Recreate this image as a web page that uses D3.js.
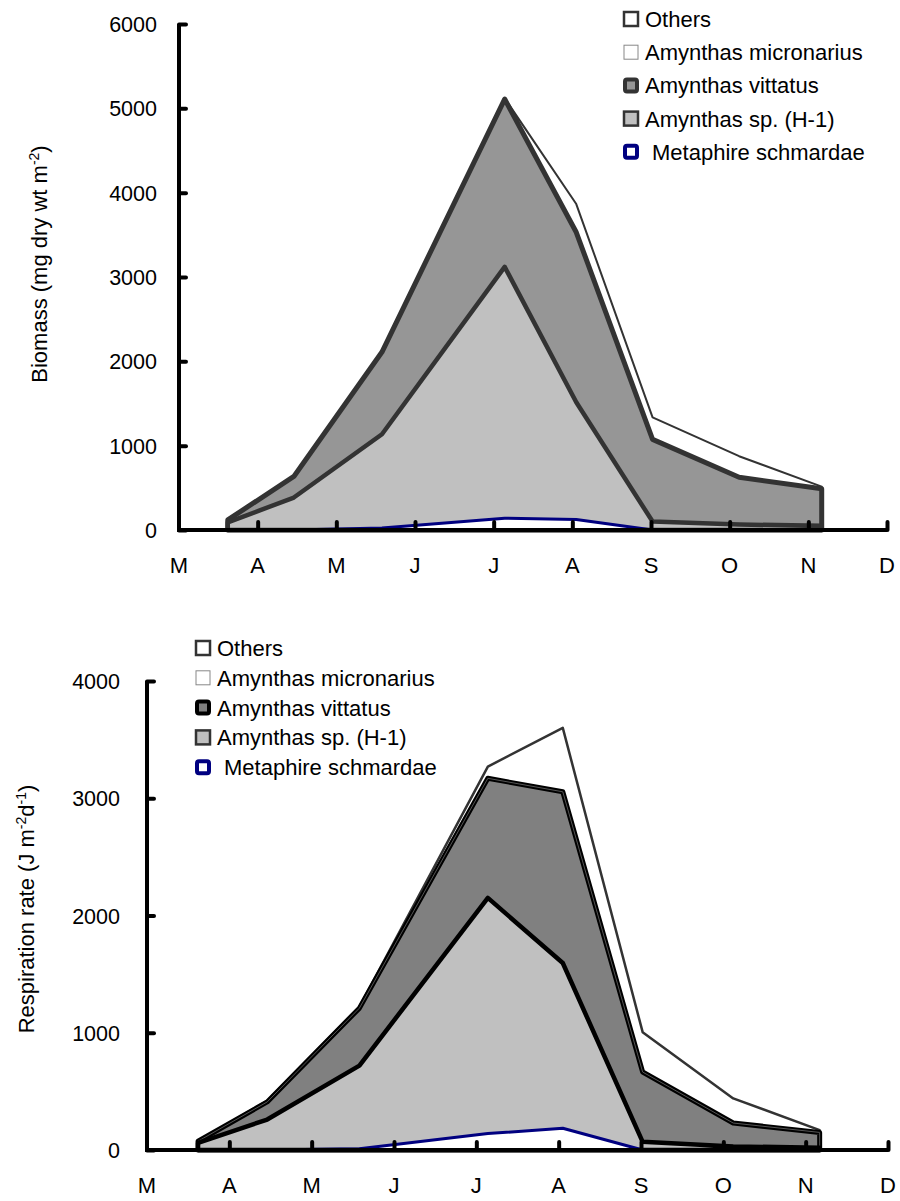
<!DOCTYPE html>
<html>
<head>
<meta charset="utf-8">
<script src="https://cdn.jsdelivr.net/npm/d3@7"></script>
<style>
  body { margin: 0; background: #fff; }
  svg { display: block; font-family: "Liberation Sans", Arial, sans-serif; }
</style>
</head>
<body>
<div id="chart"></div>
<script>
// month labels on the x axis (M = March ... D = December)
var monthLabels = ['M', 'A', 'M', 'J', 'J', 'A', 'S', 'O', 'N', 'D'];
// sampling dates, in months after 1 March
var sampleMonths = [0.62, 1.46, 2.58, 4.14, 5.05, 6.02, 7.12, 8.17];

var speciesNames = ['Metaphire schmardae', 'Amynthas sp. (H-1)', 'Amynthas vittatus', 'Amynthas micronarius', 'Others'];

// biomass, mg dry wt m-2 (per species, stacked bottom to top)
var bioMetaphire = [0, 0, 25, 140, 125, 0, 0, 0];
var bioH1 = [90, 385, 1110, 2980, 1390, 100, 65, 50];
var bioVittatus = [30, 250, 975, 1990, 2015, 975, 560, 440];
var bioMicronarius = [0, 0, 0, 0, 170, 125, 125, 10];
var bioOthers = [0, 5, 5, 10, 165, 135, 125, 15];
var bioTicks = [0, 1000, 2000, 3000, 4000, 5000, 6000];

// respiration rate, J m-2 d-1
var resMetaphire = [0, 0, 10, 140, 185, 0, 0, 0];
var resH1 = [60, 260, 710, 2010, 1410, 70, 30, 20];
var resVittatus = [15, 150, 490, 1020, 1460, 595, 200, 130];
var resMicronarius = [0, 5, 5, 60, 345, 185, 120, 10];
var resOthers = [0, 5, 5, 40, 200, 155, 90, 10];
var resTicks = [0, 1000, 2000, 3000, 4000];

var svg = d3.select('#chart').append('svg')
    .attr('width', 900)
    .attr('height', 1201);

function drawPanel(opt) {
    var x = d3.scaleLinear().domain([0, 9]).range(opt.xRange);
    var y = d3.scaleLinear().domain([0, opt.yMax]).range(opt.yRange);
    var g = svg.append('g');

    // cumulative totals, each area drawn from zero (spreadsheet style)
    var series = [opt.values[0]];
    for (var i = 1; i < opt.values.length; i++) {
        series.push(opt.values[i].map(function (v, j) { return v + series[i - 1][j]; }));
    }

    var area = d3.area()
        .x(function (d, i) { return x(sampleMonths[i]); })
        .y0(y(0))
        .y1(function (d) { return y(d); });

    // paint from the top-most total down to the bottom layer
    for (var k = series.length - 1; k >= 0; k--) {
        var st = opt.styles[k];
        g.append('path')
            .datum(series[k])
            .attr('d', area)
            .attr('fill', st.fill)
            .attr('stroke', st.stroke)
            .attr('stroke-width', st.width)
            .attr('stroke-linejoin', 'round');
        if (st.inner) {
            g.append('path')
                .datum(series[k])
                .attr('d', area)
                .attr('fill', 'none')
                .attr('stroke', st.inner)
                .attr('stroke-width', 1)
                .attr('stroke-linejoin', 'round');
        }
    }

    // axes
    var yAxis = d3.axisRight(y).tickValues(opt.ticks).tickSize(7).tickFormat('');
    var gy = g.append('g').attr('transform', 'translate(' + opt.xRange[0] + ',0)').call(yAxis);
    var xAxis = d3.axisTop(x).tickValues(d3.range(1, 10)).tickSize(8).tickFormat('');
    var gx = g.append('g').attr('transform', 'translate(0,' + opt.yRange[0] + ')').call(xAxis);
    g.selectAll('.domain').attr('stroke', '#000').attr('stroke-width', 4);
    g.selectAll('.tick line').attr('stroke', '#000').attr('stroke-width', 4).attr('stroke-linecap', 'round');
    gy.select('.domain').attr('d', 'M0,' + opt.yRange[1] + 'V' + opt.yRange[0]);
    gx.select('.domain').attr('d', 'M' + (opt.xRange[0] - 2) + ',0H' + opt.xRange[1]);

    g.selectAll('.ylab').data(opt.ticks).enter().append('text')
        .attr('x', opt.xRange[0] - opt.labelGap)
        .attr('y', function (d) { return y(d) + 8; })
        .attr('text-anchor', 'end')
        .attr('font-size', 21.5)
        .text(function (d) { return d; });

    g.selectAll('.xlab').data(monthLabels).enter().append('text')
        .attr('x', function (d, i) { return x(i); })
        .attr('y', opt.yRange[0] + 43)
        .attr('text-anchor', 'middle')
        .attr('font-size', 22)
        .text(function (d) { return d; });

    // rotated y title
    var t = g.append('text')
        .attr('transform', 'translate(' + opt.titlePos[0] + ',' + opt.titlePos[1] + ') rotate(-90)')
        .attr('text-anchor', 'middle')
        .attr('font-size', 22);
    opt.title.forEach(function (p) {
        var s = t.append('tspan').text(p.t);
        if (p.sup) s.attr('font-size', 14).attr('dy', p.dy);
        else if (p.dy) s.attr('dy', p.dy);
    });

    // legend, top entry first
    var leg = g.append('g').attr('transform', 'translate(' + opt.legend[0] + ',' + opt.legend[1] + ')');
    var order = [4, 3, 2, 1, 0];
    order.forEach(function (k, r) {
        var ls = opt.legendStyles[k];
        var cy = r * opt.legendStep;
        leg.append('rect')
            .attr('x', ls.inset).attr('y', cy - 8 + ls.inset)
            .attr('width', 16 - 2 * ls.inset).attr('height', 16 - 2 * ls.inset)
            .attr('rx', ls.rx)
            .attr('fill', ls.fill)
            .attr('stroke', ls.stroke)
            .attr('stroke-width', ls.width);
        leg.append('text')
            .attr('x', k === 0 ? 29 : 22)
            .attr('y', cy + 8)
            .attr('font-size', 22)
            .text(speciesNames[k]);
    });
}

drawPanel({
    xRange: [179, 887],
    yRange: [530, 24],
    yMax: 6000,
    ticks: bioTicks,
    labelGap: 22,
    values: [bioMetaphire, bioH1, bioVittatus, bioMicronarius, bioOthers],
    styles: [
        { fill: '#fff', stroke: '#000080', width: 3 },
        { fill: '#c0c0c0', stroke: '#333', width: 4.5 },
        { fill: '#969696', stroke: '#333', width: 5 },
        { fill: '#fff', stroke: 'none', width: 0 },
        { fill: '#fff', stroke: '#333', width: 2 }
    ],
    legendStyles: [
        { fill: '#fff', stroke: '#000080', width: 4, rx: 2, inset: 2 },
        { fill: '#c0c0c0', stroke: '#333', width: 2.5, rx: 0, inset: 1 },
        { fill: '#969696', stroke: '#333', width: 4, rx: 2, inset: 2 },
        { fill: '#fff', stroke: '#888', width: 1, rx: 0, inset: 1 },
        { fill: '#fff', stroke: '#333', width: 2.5, rx: 0, inset: 1 }
    ],
    legend: [623, 19],
    legendStep: 33.2,
    titlePos: [47, 264],
    title: [{ t: 'Biomass (mg dry wt m' }, { t: '-2', sup: true, dy: -8 }, { t: ')', dy: 8 }]
});

drawPanel({
    xRange: [147, 888],
    yRange: [1150, 681],
    yMax: 4000,
    ticks: resTicks,
    labelGap: 27,
    values: [resMetaphire, resH1, resVittatus, resMicronarius, resOthers],
    styles: [
        { fill: '#fff', stroke: '#000080', width: 3 },
        { fill: '#c0c0c0', stroke: '#000', width: 4.5 },
        { fill: '#808080', stroke: '#000', width: 5, inner: '#555' },
        { fill: '#fff', stroke: 'none', width: 0 },
        { fill: '#fff', stroke: '#333', width: 2.5 }
    ],
    legendStyles: [
        { fill: '#fff', stroke: '#000080', width: 4, rx: 2, inset: 2 },
        { fill: '#c0c0c0', stroke: '#333', width: 2.5, rx: 0, inset: 1 },
        { fill: '#808080', stroke: '#000', width: 4, rx: 2, inset: 2 },
        { fill: '#fff', stroke: '#888', width: 1, rx: 0, inset: 1 },
        { fill: '#fff', stroke: '#333', width: 2.5, rx: 0, inset: 1 }
    ],
    legend: [195, 648],
    legendStep: 29.8,
    titlePos: [34, 909],
    title: [{ t: 'Respiration rate (J m' }, { t: '-2', sup: true, dy: -8 }, { t: 'd', dy: 8 }, { t: '-1', sup: true, dy: -8 }, { t: ')', dy: 8 }]
});
</script>
</body>
</html>
